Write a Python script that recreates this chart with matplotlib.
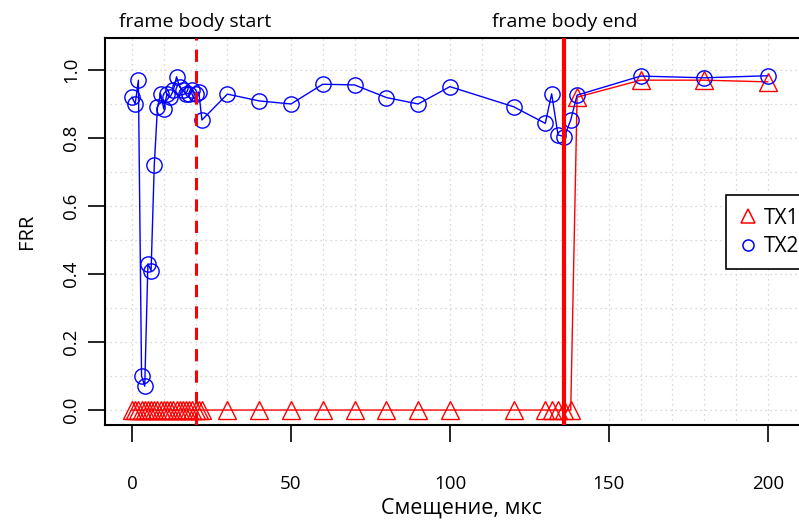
import matplotlib.pyplot as plt
from matplotlib.lines import Line2D

# смещение, мкс
x = [0, 1, 2, 3, 4, 5, 6, 7, 8, 9, 10, 11, 12, 13, 14, 15, 16, 17, 18, 19, 20, 21, 22,
     30, 40, 50, 60, 70, 80, 90, 100, 120, 130, 132, 134, 136, 138, 140, 160, 180, 200]

# FRR
tx1 = [0.0] * 37 + [0.92, 0.97, 0.97, 0.965]
tx2 = [0.92, 0.90, 0.97, 0.10, 0.07, 0.43, 0.41, 0.72, 0.89, 0.93, 0.885, 0.93, 0.92,
       0.94, 0.98, 0.95, 0.94, 0.93, 0.93, 0.94, 0.93, 0.935, 0.853,
       0.929, 0.909, 0.90, 0.958, 0.956, 0.919, 0.90, 0.951,
       0.892, 0.843, 0.93, 0.809, 0.804, 0.853, 0.926, 0.982, 0.977, 0.983]

frame_start = 20
frame_end = 136

xticks = [0, 50, 100, 150, 200]
yticks = [0.0, 0.2, 0.4, 0.6, 0.8, 1.0]

plt.rcParams["font.family"] = ["Open Sans", "DejaVu Sans"]

fig = plt.figure(figsize=(7.99, 5.25), dpi=100)
ax = fig.add_axes([105 / 799, 100 / 525, 728 / 799, 387 / 525])

# сетка
for gx in range(0, 221, 10):
    ax.axvline(gx, color="#cccccc", lw=0.9, ls=(0, (1, 3)), zorder=0)
for gy in [i / 10 for i in range(11)]:
    ax.axhline(gy, color="#cccccc", lw=0.9, ls=(0, (1, 3)), zorder=0)

ax.plot(x, tx1, color="red", lw=1, marker="^", ms=13, mfc="none", mew=1, zorder=3)
ax.plot(x, tx2, color="blue", lw=1, marker="o", ms=11, mfc="none", mew=1, zorder=4)

ax.axvline(frame_start, color="red", lw=2.2, ls=(0, (4, 3)), zorder=5)
ax.axvline(frame_end, color="red", lw=3, zorder=5)

ax.text(frame_start, 1.115, "frame body start", ha="center", va="bottom", fontsize=14,
        clip_on=False)
ax.text(frame_end, 1.115, "frame body end", ha="center", va="bottom", fontsize=14,
        clip_on=False)

ax.set_xlim(-8.5, 220.5)
ax.set_ylim(-0.044, 1.094)
ax.set_xticks(xticks)
ax.set_yticks(yticks)
ax.set_yticklabels(["0.0", "0.2", "0.4", "0.6", "0.8", "1.0"], rotation=90, va="center")
ax.tick_params(axis="both", direction="out", length=12, width=1.2, labelsize=13.5)
ax.tick_params(axis="x", pad=24)
ax.tick_params(axis="y", pad=6)
for s in ax.spines.values():
    s.set_linewidth(1.5)

ax.set_xlabel("Смещение, мкс", fontsize=15.5, labelpad=3, x=0.49)
ax.set_ylabel("FRR", fontsize=14.5, labelpad=18)

handles = [Line2D([], [], ls="none", marker="^", color="red", mfc="none", ms=10, mew=1.1),
           Line2D([], [], ls="none", marker="o", color="blue", mfc="none", ms=8, mew=1.1)]
leg = ax.legend(handles, ["TX1", "TX2"], loc="upper left",
                bbox_to_anchor=(726 / 799, 330 / 525), bbox_transform=fig.transFigure,
                borderaxespad=0, fancybox=False, framealpha=1, edgecolor="black",
                fontsize=15, handlelength=0.9, handletextpad=0.3, borderpad=0.6,
                labelspacing=0.35)
leg.get_frame().set_linewidth(1.2)

fig.savefig("out.png", dpi=100)
